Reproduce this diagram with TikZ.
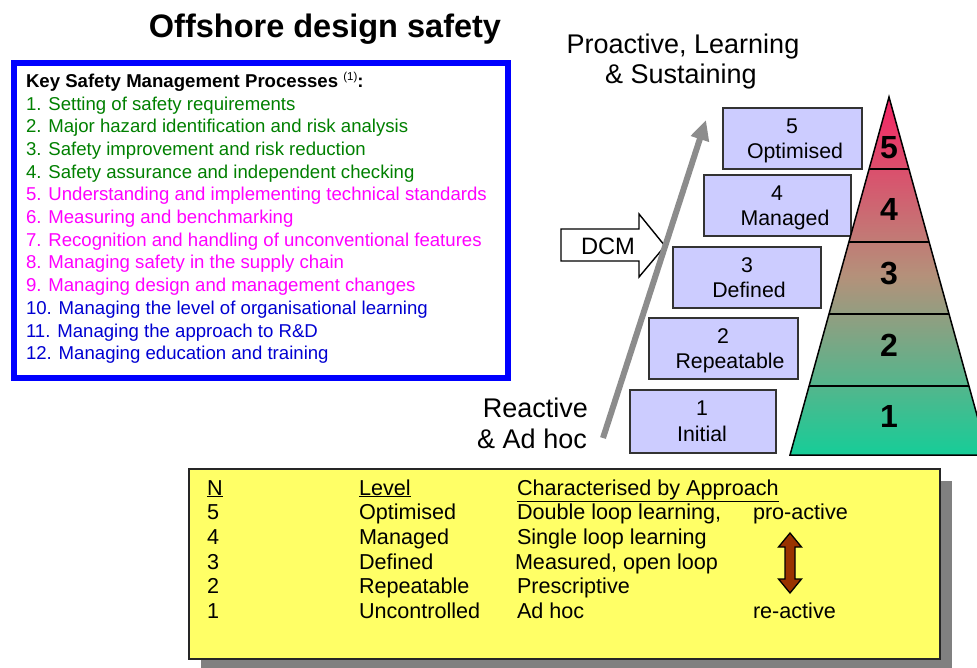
\documentclass[tikz,border=0pt]{standalone}
\usepackage{fontspec}
\setmainfont{Liberation Sans}
\usetikzlibrary{arrows.meta,calc}
\definecolor{tgreen}{RGB}{0,128,0}
\definecolor{tmag}{RGB}{255,0,255}
\definecolor{tblue}{RGB}{0,0,210}
\definecolor{bblue}{RGB}{0,0,255}
\definecolor{lav}{RGB}{204,204,255}
\definecolor{ylw}{RGB}{255,255,102}
\definecolor{shadowgray}{RGB}{128,128,128}
\definecolor{arrowgray}{RGB}{140,140,140}
\definecolor{brownarrow}{RGB}{153,51,0}
\definecolor{ptop}{RGB}{245,35,100}
\definecolor{pmid}{RGB}{180,145,122}
\definecolor{pbot}{RGB}{22,205,152}
\newcommand\myfs[1]{\fontsize{#1}{#1}\selectfont}
\tikzset{
  txt/.style={anchor=base west, inner sep=0pt, outer sep=0pt},
  listtxt/.style={txt, font=\myfs{18.6}},
  lvlbox/.style={draw=black!80, line width=1.8pt, fill=lav, anchor=north west, inner sep=0pt},
  lvltxt/.style={anchor=base, inner sep=0pt, font=\myfs{21.3}},
  pyrnum/.style={anchor=base, inner sep=0pt, font=\myfs{32}\bfseries},
  tabtxt/.style={txt, font=\myfs{21.6}},
  bigtxt/.style={inner sep=0pt, font=\myfs{27}},
}
\begin{document}
\begin{tikzpicture}[x=1pt,y=-1pt]
\useasboundingbox (0,0) rectangle (977,667);
\begin{scope}
\clip (0,0) rectangle (977,667);
\fill[white] (0,0) rectangle (977,667);

% Title
\node[anchor=base, inner sep=0pt, font=\myfs{32.5}\bfseries] (title) at (325,37.5) {Offshore design safety};

% Blue box
\node[draw=bblue, line width=6pt, anchor=north west, minimum width=494pt, minimum height=315pt, inner sep=0pt] (kbox) at (11,60) {};
\node[listtxt, font=\myfs{18.6}\bfseries] (k0) at (26,87) {Key Safety Management Processes {\raisebox{7pt}{\myfs{11.5}\mdseries(1)}}:};
\node[listtxt, text=tgreen] (k1) at (26,110) {1. Setting of safety requirements};
\node[listtxt, text=tgreen] (k2) at (26,132.7) {2. Major hazard identification and risk analysis};
\node[listtxt, text=tgreen] (k3) at (26,155.4) {3. Safety improvement and risk reduction};
\node[listtxt, text=tgreen] (k4) at (26,178.1) {4. Safety assurance and independent checking};
\node[listtxt, text=tmag] (k5) at (26,200.8) {5. Understanding and implementing technical standards};
\node[listtxt, text=tmag] (k6) at (26,223.5) {6. Measuring and benchmarking};
\node[listtxt, text=tmag] (k7) at (26,246.2) {7. Recognition and handling of unconventional features};
\node[listtxt, text=tmag] (k8) at (26,268.9) {8. Managing safety in the supply chain};
\node[listtxt, text=tmag] (k9) at (26,291.6) {9. Managing design and management changes};
\node[listtxt, text=tblue] (k10) at (26,314.3) {10. Managing the level of organisational learning};
\node[listtxt, text=tblue] (k11) at (26,337) {11. Managing the approach to R\&D};
\node[listtxt, text=tblue] (k12) at (26,359.7) {12. Managing education and training};

% Proactive label
\node[bigtxt, anchor=base] (pro1) at (683,53) {Proactive, Learning};
\node[bigtxt, anchor=base] (pro2) at (681,83) {\& Sustaining};

% Reactive label
\node[bigtxt, anchor=base east] (rea1) at (588,417) {Reactive};
\node[bigtxt, anchor=base east] (rea2) at (587,448) {\& Ad hoc};

% Level boxes
\node[lvlbox, minimum width=139pt, minimum height=61pt] (b5) at (722,107) {};
\node[lvlbox, minimum width=147pt, minimum height=61pt] (b4) at (703,174) {};
\node[lvlbox, minimum width=148pt, minimum height=61pt] (b3) at (672,246) {};
\node[lvlbox, minimum width=149pt, minimum height=61pt] (b2) at (648,317) {};
\node[lvlbox, minimum width=146pt, minimum height=63pt] (b1) at (629,389) {};
\node[lvltxt] (n5) at (792,133) {5};
\node[lvltxt] (t5) at (795,158) {Optimised};
\node[lvltxt] (n4) at (777,200) {4};
\node[lvltxt] (t4) at (785,225) {Managed};
\node[lvltxt] (n3) at (747,272) {3};
\node[lvltxt] (t3) at (749,297) {Defined};
\node[lvltxt] (n2) at (723,343) {2};
\node[lvltxt] (t2) at (730,368) {Repeatable};
\node[lvltxt] (n1) at (702,415) {1};
\node[lvltxt] (t1) at (702,441) {Initial};

% DCM arrow
\draw[fill=white, line width=1.4pt, line join=miter] (561,229) -- (639,229) -- (639,214) -- (665,246) -- (639,277) -- (639,261) -- (561,261) -- cycle;
\node[anchor=base, inner sep=0pt, font=\myfs{23.7}] (dcm) at (608,254) {DCM};

% Gray arrow
\coordinate (ga1) at (603,438);
\coordinate (ga2) at (706,120);
\draw[arrowgray, line width=6pt, -{Triangle[width=18pt,length=20pt]}] (ga1) -- (ga2);

% Pyramid
\coordinate (apex) at (889,97);
\coordinate (bl) at (790,455);
\coordinate (br) at (988,455);
\shade[top color=ptop, bottom color=pbot, middle color=pmid] (apex) -- (br) -- (bl) -- cycle;
\draw[line width=1.5pt] ($(apex)!0.2011!(bl)$) -- ($(apex)!0.2011!(br)$);
\draw[line width=1.5pt] ($(apex)!0.405!(bl)$) -- ($(apex)!0.405!(br)$);
\draw[line width=1.5pt] ($(apex)!0.606!(bl)$) -- ($(apex)!0.606!(br)$);
\draw[line width=1.5pt] ($(apex)!0.807!(bl)$) -- ($(apex)!0.807!(br)$);
\draw[line width=1.5pt, line join=miter] (apex) -- (br) -- (bl) -- cycle;
\node[pyrnum] (p5) at (889,158) {5};
\node[pyrnum] (p4) at (889,220) {4};
\node[pyrnum] (p3) at (889,284) {3};
\node[pyrnum] (p2) at (889,356) {2};
\node[pyrnum] (p1) at (889,427) {1};

% Yellow table
\fill[shadowgray] (201,481) rectangle (952,672);
\node[draw=black!85, line width=1.6pt, fill=ylw, anchor=north west, minimum width=751pt, minimum height=190pt, inner sep=0pt] (ybox) at (188,468) {};
\node[tabtxt] (hN) at (207,495) {\underline{N}};
\node[tabtxt] (hL) at (359,495) {\underline{Level}};
\node[tabtxt] (hC) at (517,495) {\underline{Characterised by Approach}};
\node[tabtxt] (r5n) at (207,519) {5};
\node[tabtxt] (r5l) at (359,519) {Optimised};
\node[tabtxt] (r5c) at (517,519) {Double loop learning,};
\node[tabtxt] (r5p) at (753,519) {pro-active};
\node[tabtxt] (r4n) at (207,544) {4};
\node[tabtxt] (r4l) at (359,544) {Managed};
\node[tabtxt] (r4c) at (517,544) {Single loop learning};
\node[tabtxt] (r3n) at (207,569) {3};
\node[tabtxt] (r3l) at (359,569) {Defined};
\node[tabtxt] (r3c) at (515,569) {Measured, open loop};
\node[tabtxt] (r2n) at (207,593) {2};
\node[tabtxt] (r2l) at (359,593) {Repeatable};
\node[tabtxt] (r2c) at (517,593) {Prescriptive};
\node[tabtxt] (r1n) at (207,618) {1};
\node[tabtxt] (r1l) at (359,618) {Uncontrolled};
\node[tabtxt] (r1c) at (517,618) {Ad hoc};
\node[tabtxt] (r1p) at (753,618) {re-active};

% double arrow
\draw[fill=brownarrow, line width=1.3pt, line join=miter]
  (790,533) -- (801.5,547) -- (795,547) -- (795,579) -- (801.5,579) -- (790,593)
  -- (778.5,579) -- (785,579) -- (785,547) -- (778.5,547) -- cycle;
\end{scope}
\end{tikzpicture}
\end{document}
